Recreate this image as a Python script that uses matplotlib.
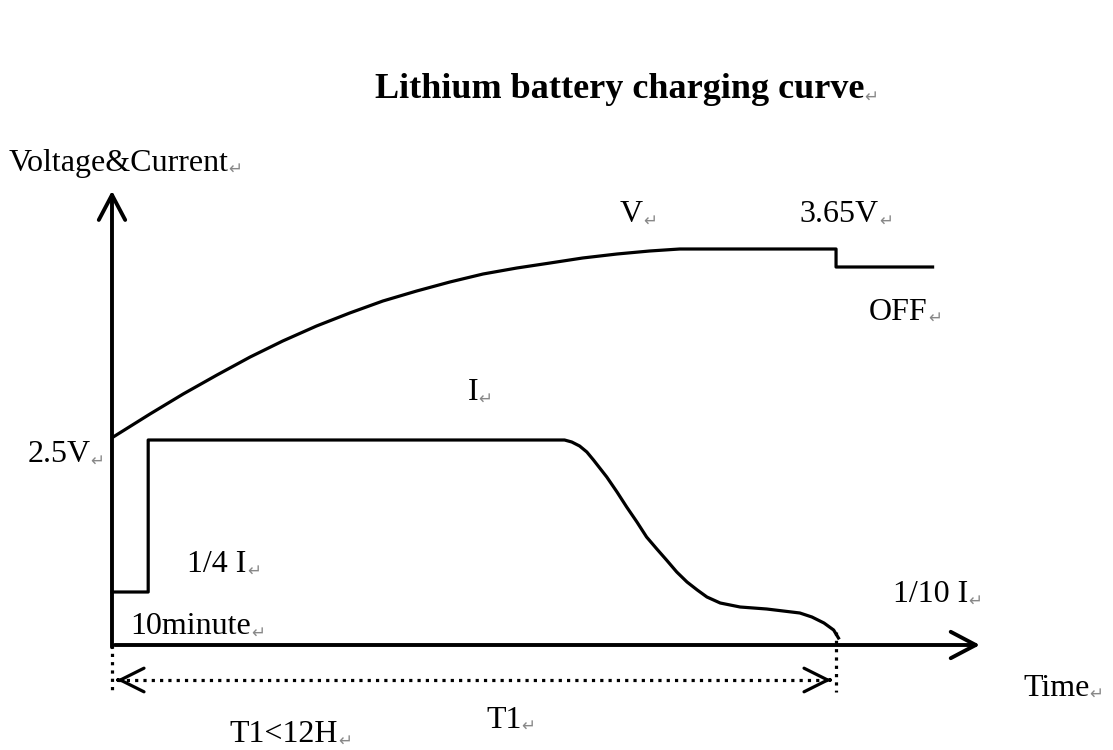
import matplotlib
matplotlib.use('Agg')
import matplotlib.pyplot as plt

# time in hours (T1 = 12), level in arbitrary units above the time axis
v_time = [0.02, 0.63, 1.18, 1.74, 2.29, 2.83, 3.39, 3.94, 4.49, 5.05, 5.60, 6.15, 6.71,
          7.26, 7.80, 8.37, 8.91, 9.41, 12.0, 12.0, 13.6]
v_level = [208, 231, 251, 270, 288, 304, 319, 332, 344, 354, 363, 371, 377,
           382, 387, 391, 394, 396, 396, 378, 378]

i_time = [0.0, 0.6, 0.6, 7.5, 7.62, 7.75, 7.87, 7.98, 8.2, 8.37, 8.53, 8.7, 8.86, 9.03, 9.19,
          9.36, 9.53, 9.7, 9.86, 10.08, 10.41, 10.85, 11.4, 11.6, 11.8, 11.96, 12.04]
i_level = [53, 53, 205, 205, 203, 199, 193, 185, 168, 153, 138, 123, 108, 96, 85,
           73, 63, 55, 48, 42, 38, 36, 32, 28, 22, 15, 7]

t_end = 12.0
t_axis_max = 14.43
level_axis_max = 457

# label text, time, level
labels = [
    ("Voltage&Current", -1.72, 482),
    ("V", 8.42, 430),
    ("3.65V", 11.4, 430),
    ("OFF", 12.55, 333),
    ("I", 5.9, 252),
    ("2.5V", -1.4, 190),
    ("1/4 I", 1.25, 80),
    ("10minute", 0.3, 18),
    ("1/10 I", 12.95, 50),
    ("Time", 15.1, -43),
    ("T1", 6.2, -75),
    ("T1<12H", 1.95, -90),
]
title = "Lithium battery charging curve"

plt.rcParams['font.family'] = ['Liberation Serif', 'DejaVu Sans']

fig = plt.figure(figsize=(11.13, 7.5), dpi=100)
ax = fig.add_axes([0, 0, 1, 1])
ax.set_xlim(-1.856, 16.59)
ax.set_ylim(-105, 645)
ax.axis('off')

# axes with arrows
head = '->,head_length=1.8,head_width=0.95'
ax.annotate('', xy=(0, level_axis_max), xytext=(0, -5),
            arrowprops=dict(arrowstyle=head, lw=2.8, color='black'))
ax.annotate('', xy=(t_axis_max, 0), xytext=(0, 0),
            arrowprops=dict(arrowstyle=head, lw=2.8, color='black'))

# curves
ax.plot(v_time, v_level, color='black', lw=2.3, solid_joinstyle='round')
ax.plot(i_time, i_level, color='black', lw=2.3, solid_joinstyle='round')

# dotted markers for T1
dots = (0, (1, 1.6))
ax.plot([0, 0], [0, -47], color='black', lw=2.3, linestyle=dots)
ax.plot([t_end, t_end], [13, -47], color='black', lw=2.3, linestyle=dots)
ax.plot([0.1, t_end - 0.1], [-35, -35], color='black', lw=2.3, linestyle=dots)
# solid open heads on the dotted span
small = '->,head_length=1.7,head_width=0.85'
ax.annotate('', xy=(0.08, -35), xytext=(0.1, -35),
            arrowprops=dict(arrowstyle=small, lw=2.3, color='black', shrinkA=0, shrinkB=0))
ax.annotate('', xy=(t_end - 0.08, -35), xytext=(t_end - 0.1, -35),
            arrowprops=dict(arrowstyle=small, lw=2.3, color='black', shrinkA=0, shrinkB=0))


def label(s, x, y, **kw):
    t = ax.text(x, y, s, ha='left', va='center', fontsize=kw.pop('fontsize', 23), color='black', **kw)
    ax.annotate('\u21b5', xy=(1, 0.3), xycoords=t, ha='left', va='center',
                fontsize=12, color='#888888', family=['DejaVu Sans'])
    return t


label(title, 4.36, 555, fontsize=26, fontweight='bold')
for s, x, y in labels:
    label(s, x, y)

fig.savefig('out.png', dpi=100)
